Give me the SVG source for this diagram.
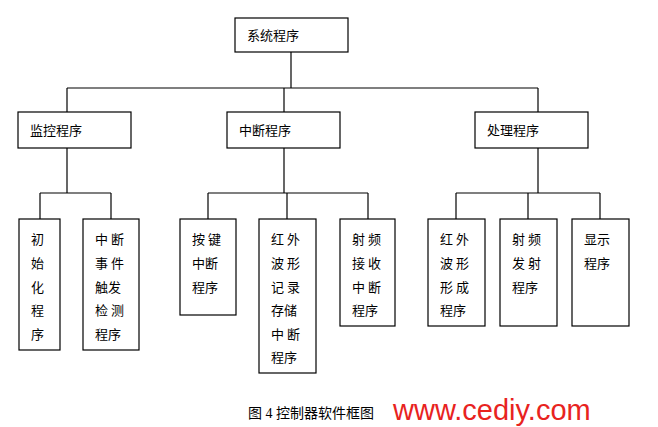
<svg xmlns="http://www.w3.org/2000/svg" width="658" height="427" viewBox="0 0 658 427">
<style>
rect{fill:#fff;stroke:#000;stroke-width:1.2}
line{stroke:#000;stroke-width:1.2}
text{font-family:"Noto Sans CJK SC","Liberation Serif",serif;font-size:13px;fill:#000}
</style>
<rect x="0" y="0" width="658" height="427" style="stroke:none"/>
<g id="connectors">
<line x1="291" y1="52" x2="291" y2="88"/><line x1="67" y1="88" x2="538" y2="88"/>
<line x1="67" y1="88" x2="67" y2="112"/><line x1="284" y1="88" x2="284" y2="112"/><line x1="538" y1="88" x2="538" y2="112"/>
<line x1="67" y1="148" x2="67" y2="193"/><line x1="40" y1="193" x2="111" y2="193"/>
<line x1="40" y1="193" x2="40" y2="219"/><line x1="111" y1="193" x2="111" y2="219"/>
<line x1="284" y1="148" x2="284" y2="193"/><line x1="208" y1="193" x2="368" y2="193"/>
<line x1="208" y1="193" x2="208" y2="219"/><line x1="287" y1="193" x2="287" y2="219"/><line x1="368" y1="193" x2="368" y2="219"/>
<line x1="538" y1="148" x2="538" y2="193"/><line x1="456" y1="193" x2="600" y2="193"/>
<line x1="456" y1="193" x2="456" y2="219"/><line x1="528" y1="193" x2="528" y2="219"/><line x1="600" y1="193" x2="600" y2="219"/>
</g>
<g id="n0"><rect x="235" y="18" width="113" height="34"/><text x="247" y="40">系统程序</text></g>
<g id="n1"><rect x="18" y="112" width="113" height="36"/><text x="30" y="135">监控程序</text></g>
<g id="n2"><rect x="227" y="112" width="113" height="36"/><text x="239" y="135">中断程序</text></g>
<g id="n3"><rect x="475" y="112" width="113" height="36"/><text x="487" y="135">处理程序</text></g>
<g id="l1"><rect x="19" y="219" width="41" height="131"/>
<text x="31" y="244">初</text><text x="31" y="268">始</text><text x="31" y="292">化</text><text x="31" y="315">程</text><text x="31" y="339">序</text></g>
<g id="l2"><rect x="83" y="219" width="56" height="131"/>
<text x="95" y="244">中 断</text><text x="95" y="268">事 件</text><text x="95" y="292">触发</text><text x="95" y="315">检 测</text><text x="95" y="339">程序</text></g>
<g id="l3"><rect x="180" y="219" width="56" height="96"/>
<text x="192" y="244">按 键</text><text x="192" y="268">中断</text><text x="192" y="292">程序</text></g>
<g id="l4"><rect x="259" y="219" width="57" height="154"/>
<text x="271" y="244">红 外</text><text x="271" y="268">波 形</text><text x="271" y="292">记 录</text><text x="271" y="315">存储</text><text x="271" y="339">中 断</text><text x="271" y="362">程序</text></g>
<g id="l5"><rect x="340" y="219" width="55" height="107"/>
<text x="352" y="244">射 频</text><text x="352" y="268">接 收</text><text x="352" y="292">中 断</text><text x="352" y="315">程序</text></g>
<g id="l6"><rect x="428" y="219" width="57" height="107"/>
<text x="440" y="244">红 外</text><text x="440" y="268">波 形</text><text x="440" y="292">形 成</text><text x="440" y="315">程序</text></g>
<g id="l7"><rect x="500" y="219" width="57" height="107"/>
<text x="512" y="244">射 频</text><text x="512" y="268">发 射</text><text x="512" y="292">程序</text></g>
<g id="l8"><rect x="572" y="219" width="57" height="107"/>
<text x="584" y="244">显示</text><text x="584" y="268">程序</text></g>
<text x="248" y="418" style="font-family:'Liberation Serif','Noto Sans CJK SC',serif;font-size:14px">图 4 控制器软件框图</text>
<text x="393" y="420" style="font-family:'Liberation Sans',sans-serif;font-size:29px;fill:#e8231e">www.cediy.com</text>
</svg>
